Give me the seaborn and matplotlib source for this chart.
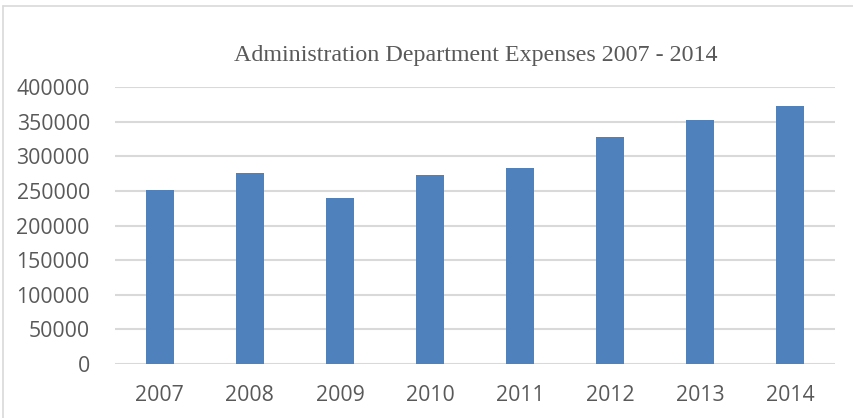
import matplotlib
matplotlib.use("Agg")
import matplotlib.pyplot as plt
from matplotlib.lines import Line2D
import seaborn as sns
import pandas as pd

years = ["2007", "2008", "2009", "2010", "2011", "2012", "2013", "2014"]
expenses = [251500, 275500, 239000, 272500, 283000, 327500, 353000, 372500]
y_ticks = [0, 50000, 100000, 150000, 200000, 250000, 300000, 350000, 400000]
title = "Administration Department Expenses 2007 - 2014"

df = pd.DataFrame({"year": years, "expenses": expenses})

sns.set_theme(style="white")
plt.rcParams["font.family"] = ["Open Sans", "DejaVu Sans"]

fig = plt.figure(figsize=(8.54, 4.18), dpi=100)
ax = fig.add_axes([0.1345, 0.129, 0.8435, 0.663])

sns.barplot(data=df, x="year", y="expenses", color="#4f81bd", saturation=1,
            width=0.31, ax=ax, edgecolor="none")

ax.set_ylim(0, 400000)
ax.set_xlim(-0.5, len(years) - 0.5)
ax.set_yticks(y_ticks)
ax.set_yticklabels([str(v) for v in y_ticks])
ax.yaxis.grid(True, color="#d9d9d9", linewidth=1.5)
ax.set_axisbelow(True)
for s in ax.spines.values():
    s.set_visible(False)
ax.tick_params(axis="both", length=0, labelsize=15.3, labelcolor="#595959")
ax.tick_params(axis="x", pad=15)
ax.tick_params(axis="y", pad=18)
ax.set_xlabel("")
ax.set_ylabel("")

fig.text(0.557, 0.867, title, ha="center", va="center",
         fontsize=17.3, color="#595959", family=["Liberation Serif", "DejaVu Serif"])

# outer chart frame (top and left edges)
fig.add_artist(Line2D([3.5 / 854, 1.0], [1 - 5.5 / 418, 1 - 5.5 / 418],
                      transform=fig.transFigure, color="#d9d9d9", linewidth=1.2))
fig.add_artist(Line2D([3.5 / 854, 3.5 / 854], [0.0, 1 - 5.5 / 418],
                      transform=fig.transFigure, color="#d9d9d9", linewidth=1.2))

fig.savefig("out.png", dpi=100, facecolor="white")
